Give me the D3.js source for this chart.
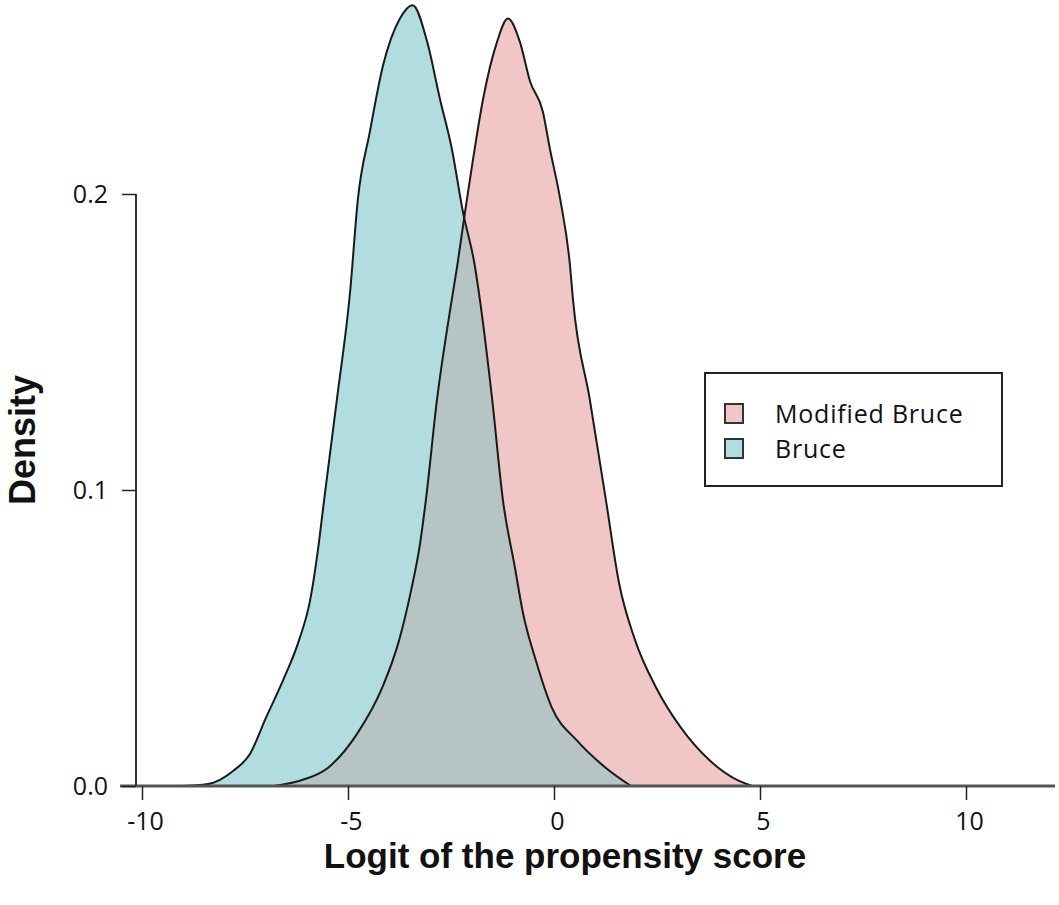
<!DOCTYPE html>
<html>
<head>
<meta charset="utf-8">
<script src="https://cdn.jsdelivr.net/npm/d3@7"></script>
<style>
  body { margin: 0; background: #fff; }
</style>
</head>
<body>
<div id="chart"></div>
<script>
// Density curves (x = logit of the propensity score)
const bruceX = [-9.08, -8.40, -7.79, -7.38, -6.99, -6.58, -6.19, -5.92, -5.73, -5.58, -5.27, -4.95, -4.76, -4.47, -4.15, -3.74, -3.43, -3.08, -2.77, -2.48, -2.21, -1.92, -1.80, -1.50, -1.24, -0.95, -0.75, -0.44, -0.05, 0.56, 1.26, 1.87];
const bruceDensity = [0, 0.0007, 0.0051, 0.0108, 0.0231, 0.0356, 0.0492, 0.0627, 0.0797, 0.0966, 0.1305, 0.1668, 0.1983, 0.2210, 0.2434, 0.2593, 0.2638, 0.2515, 0.2322, 0.2153, 0.1939, 0.1756, 0.1644, 0.1305, 0.0966, 0.0739, 0.0583, 0.0424, 0.0264, 0.0153, 0.0061, 0];

const modX = [-6.80, -6.19, -5.49, -4.78, -4.17, -3.76, -3.47, -3.25, -3.11, -2.84, -2.48, -2.35, -2.16, -1.99, -1.72, -1.38, -1.12, -0.83, -0.58, -0.27, -0.10, 0.15, 0.39, 0.46, 0.87, 1.26, 1.58, 1.97, 2.48, 3.08, 3.79, 4.49, 4.81];
const modDensity = [0, 0.0017, 0.0061, 0.0176, 0.0332, 0.0492, 0.0660, 0.0820, 0.0966, 0.1305, 0.1644, 0.1756, 0.1939, 0.2095, 0.2322, 0.2515, 0.2593, 0.2515, 0.2380, 0.2278, 0.2153, 0.1983, 0.1756, 0.1644, 0.1305, 0.0966, 0.0685, 0.0492, 0.0332, 0.0197, 0.0085, 0.0017, 0];

const xTicks = [-10, -5, 0, 5, 10];
const yTicks = [0, 0.1, 0.2];
const legendLabels = ["Modified Bruce", "Bruce"];
const legendColors = ["#f0c6c6", "#b2dde0"];

const width = 1059;
const height = 905;

const svg = d3.select("#chart").append("svg")
  .attr("width", width)
  .attr("height", height)
  .attr("viewBox", [0, 0, width, height]);

const x = d3.scaleLinear().domain([-10, 10]).range([142, 966]);
const y = d3.scaleLinear().domain([0, 0.2]).range([786, 194]);

const bruce = bruceX.map((v, i) => [v, bruceDensity[i]]);
const modified = modX.map((v, i) => [v, modDensity[i]]);

const area = d3.area()
  .x(d => x(d[0]))
  .y0(y(0))
  .y1(d => y(d[1]))
  .curve(d3.curveMonotoneX);

const line = d3.line()
  .x(d => x(d[0]))
  .y(d => y(d[1]))
  .curve(d3.curveMonotoneX);

// clip for the overlap of the two densities
svg.append("clipPath")
  .attr("id", "mod-clip")
  .append("path")
  .attr("d", area(modified));

svg.append("path")
  .attr("d", area(modified))
  .attr("fill", legendColors[0]);

svg.append("path")
  .attr("d", area(bruce))
  .attr("fill", legendColors[1]);

svg.append("path")
  .attr("d", area(bruce))
  .attr("clip-path", "url(#mod-clip)")
  .attr("fill", "#b6c4c4");

svg.append("g")
  .attr("fill", "none")
  .attr("stroke", "#1a1a1a")
  .attr("stroke-width", 2)
  .selectAll("path")
  .data([modified, bruce])
  .join("path")
  .attr("d", line);

// x axis: baseline runs across the whole plot
svg.append("line")
  .attr("x1", 120).attr("x2", 1055)
  .attr("y1", y(0)).attr("y2", y(0))
  .attr("stroke", "#555")
  .attr("stroke-width", 3);

const xAxis = svg.append("g")
  .attr("transform", `translate(0,${y(0)})`)
  .call(d3.axisBottom(x).tickValues(xTicks).tickSize(14).tickPadding(12).tickFormat(d => String(d)));
xAxis.select(".domain").remove();
xAxis.selectAll("line").attr("stroke", "#222").attr("stroke-width", 1.5);
xAxis.selectAll("text")
  .attr("dx", 3)
  .attr("font-family", "'Open Sans', sans-serif")
  .attr("font-size", 25)
  .attr("fill", "#111");

const yAxis = svg.append("g")
  .attr("transform", "translate(136,0)")
  .call(d3.axisLeft(y).tickValues(yTicks).tickSize(14).tickPadding(14).tickFormat(d3.format(".1f")));
yAxis.select(".domain")
  .attr("d", `M0,${y(0.2)}V${y(0)}`)
  .attr("stroke", "#333")
  .attr("stroke-width", 2);
yAxis.selectAll("line").attr("stroke", "#222").attr("stroke-width", 1.5);
yAxis.selectAll("text")
  .attr("font-family", "'Open Sans', sans-serif")
  .attr("font-size", 25)
  .attr("fill", "#111");

// axis titles
svg.append("text")
  .attr("x", 565)
  .attr("y", 868)
  .attr("text-anchor", "middle")
  .attr("font-family", "'Liberation Sans', Arial, sans-serif")
  .attr("font-weight", "bold")
  .attr("font-size", 35)
  .attr("fill", "#111")
  .text("Logit of the propensity score");

svg.append("text")
  .attr("transform", "translate(35,440) rotate(-90)")
  .attr("text-anchor", "middle")
  .attr("font-family", "'Liberation Sans', Arial, sans-serif")
  .attr("font-weight", "bold")
  .attr("font-size", 36)
  .attr("fill", "#111")
  .text("Density");

// legend
const legend = svg.append("g").attr("transform", "translate(705,373)");
legend.append("rect")
  .attr("width", 297)
  .attr("height", 113)
  .attr("fill", "#fff")
  .attr("stroke", "#222")
  .attr("stroke-width", 2);

const item = legend.selectAll("g.item")
  .data(legendLabels)
  .join("g")
  .attr("class", "item")
  .attr("transform", (d, i) => `translate(0,${41 + i * 35})`);

item.append("rect")
  .attr("x", 20)
  .attr("y", -10)
  .attr("width", 18)
  .attr("height", 19)
  .attr("fill", (d, i) => legendColors[i])
  .attr("stroke", "#333")
  .attr("stroke-width", 2);

item.append("text")
  .attr("x", 70)
  .attr("dy", "0.36em")
  .attr("font-family", "'Open Sans', sans-serif")
  .attr("font-size", 25)
  .attr("letter-spacing", 0.8)
  .attr("fill", "#111")
  .text(d => d);
</script>
</body>
</html>
